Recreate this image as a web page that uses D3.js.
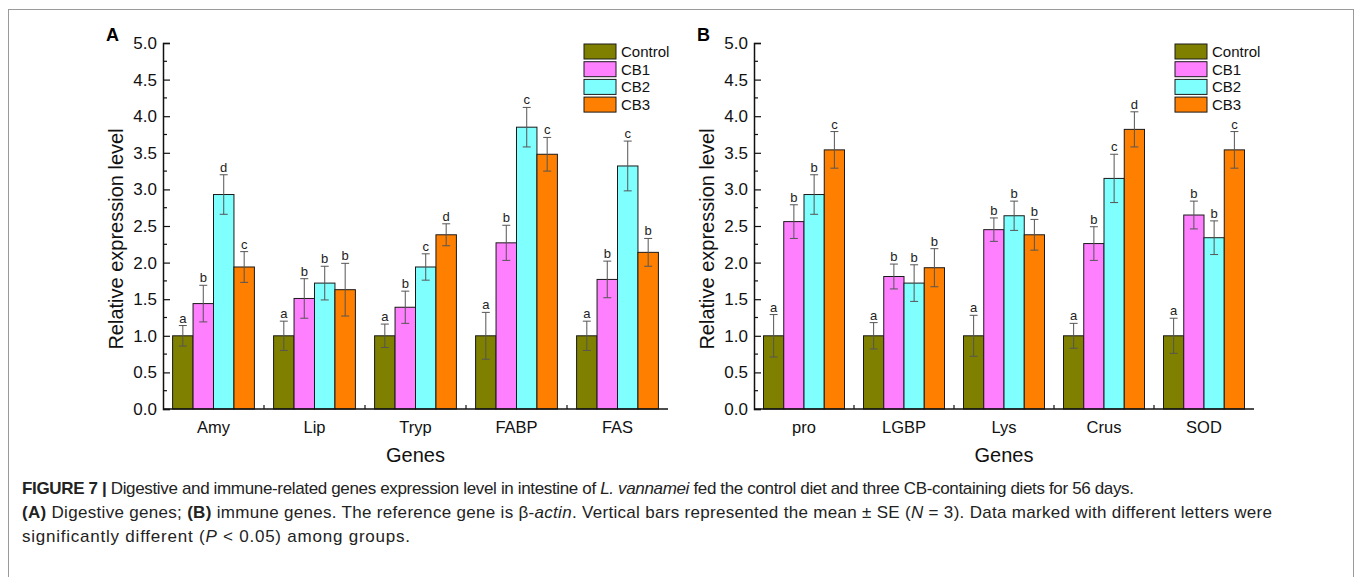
<!DOCTYPE html>
<html>
<head>
<meta charset="utf-8">
<script src="https://cdn.jsdelivr.net/npm/d3@7"></script>
<style>
  body { margin: 0; background: #fff; }
  text { font-family: "Liberation Sans", Arial, sans-serif; }
</style>
</head>
<body>
<div id="chart"></div>
<script>
// series and colours
var series = ["Control", "CB1", "CB2", "CB3"];
var colors = ["#808000", "#ff80ff", "#80ffff", "#ff8000"];

// panel A - digestive genes
var genesA = ["Amy", "Lip", "Tryp", "FABP", "FAS"];
var meanA = [
  [1.00, 1.00, 1.00, 1.00, 1.00],   // Control
  [1.44, 1.51, 1.39, 2.27, 1.77],   // CB1
  [2.93, 1.72, 1.94, 3.85, 3.32],   // CB2
  [1.94, 1.63, 2.38, 3.48, 2.14]    // CB3
];
var seA = [
  [0.14, 0.20, 0.16, 0.32, 0.20],
  [0.25, 0.27, 0.22, 0.24, 0.25],
  [0.27, 0.23, 0.18, 0.27, 0.34],
  [0.21, 0.36, 0.15, 0.23, 0.19]
];
var lettersA = [
  ["a", "a", "a", "a", "a"],
  ["b", "b", "b", "b", "b"],
  ["d", "b", "c", "c", "c"],
  ["c", "b", "d", "c", "b"]
];

// panel B - immune genes
var genesB = ["pro", "LGBP", "Lys", "Crus", "SOD"];
var meanB = [
  [1.00, 1.00, 1.00, 1.00, 1.00],
  [2.56, 1.81, 2.45, 2.26, 2.65],
  [2.93, 1.72, 2.64, 3.15, 2.34],
  [3.54, 1.93, 2.38, 3.82, 3.54]
];
var seB = [
  [0.29, 0.18, 0.28, 0.17, 0.24],
  [0.23, 0.17, 0.16, 0.23, 0.19],
  [0.27, 0.25, 0.20, 0.33, 0.23],
  [0.25, 0.26, 0.21, 0.24, 0.25]
];
var lettersB = [
  ["a", "a", "a", "a", "a"],
  ["b", "b", "b", "b", "b"],
  ["b", "b", "b", "c", "b"],
  ["c", "b", "b", "d", "c"]
];

var yTicks = [0, 0.5, 1, 1.5, 2, 2.5, 3, 3.5, 4, 4.5, 5];

var width = 1357, height = 577;

var svg = d3.select("#chart")
  .append("svg")
  .attr("width", width)
  .attr("height", height);

// figure frame
svg.append("rect")
  .attr("x", 8.5).attr("y", 9.5)
  .attr("width", 1345).attr("height", 620)
  .attr("fill", "none")
  .attr("stroke", "#9a9a9a")
  .attr("stroke-width", 1);

function drawPanel(tag, left, right, genes, means, ses, letters) {
  var top = 43, bottom = 409;
  var g = svg.append("g");

  var x = d3.scaleBand().domain(genes).range([left, right])
    .paddingInner(0.19).paddingOuter(0.095);
  var xs = d3.scaleBand().domain(series).range([0, x.bandwidth()]);
  var y = d3.scaleLinear().domain([0, 5]).range([bottom, top]);

  // panel letter
  g.append("text")
    .attr("x", left - 57).attr("y", 41)
    .attr("font-size", "18px").attr("font-weight", "bold")
    .text(tag);

  // bars
  series.forEach(function (s, i) {
    var rows = genes.map(function (gene, j) {
      return { gene: gene, v: means[i][j], se: ses[i][j], l: letters[i][j] };
    });
    var sg = g.append("g");
    sg.selectAll("rect")
      .data(rows).enter().append("rect")
      .attr("x", function (d) { return x(d.gene) + xs(s); })
      .attr("y", function (d) { return y(d.v); })
      .attr("width", xs.bandwidth())
      .attr("height", function (d) { return y(0) - y(d.v); })
      .attr("fill", colors[i])
      .attr("stroke", "#1a1a1a")
      .attr("stroke-width", 1);

    var cx = function (d) { return x(d.gene) + xs(s) + xs.bandwidth() / 2; };
    sg.selectAll("line.err")
      .data(rows).enter().append("line")
      .attr("class", "err")
      .attr("x1", cx).attr("x2", cx)
      .attr("y1", function (d) { return y(d.v + d.se); })
      .attr("y2", function (d) { return y(d.v - d.se); })
      .attr("stroke", "#555").attr("stroke-width", 1);
    [1, -1].forEach(function (sign) {
      sg.selectAll("line.cap" + sign)
        .data(rows).enter().append("line")
        .attr("x1", function (d) { return cx(d) - 4; })
        .attr("x2", function (d) { return cx(d) + 4; })
        .attr("y1", function (d) { return y(d.v + sign * d.se); })
        .attr("y2", function (d) { return y(d.v + sign * d.se); })
        .attr("stroke", "#555").attr("stroke-width", 1);
    });
    sg.selectAll("text")
      .data(rows).enter().append("text")
      .attr("x", cx)
      .attr("y", function (d) { return y(d.v + d.se) - 3; })
      .attr("text-anchor", "middle")
      .attr("font-size", "13px")
      .attr("fill", "#222")
      .text(function (d) { return d.l; });
  });

  // y axis
  var yAxis = d3.axisRight(y).tickValues(yTicks).tickSize(7)
    .tickFormat(d3.format(".1f"));
  var ya = g.append("g").attr("transform", "translate(" + left + ",0)").call(yAxis);
  ya.select(".domain").attr("stroke", "#111").attr("stroke-width", 1.5);
  ya.selectAll(".tick line").attr("stroke", "#111").attr("stroke-width", 1.2);
  ya.selectAll(".tick text")
    .attr("x", -6).attr("text-anchor", "end")
    .attr("font-size", "17px").attr("fill", "#111")
    .attr("font-family", "Liberation Sans, Arial, sans-serif");
  // minor ticks
  g.selectAll("line.minor")
    .data(d3.range(0.25, 5, 0.5)).enter().append("line")
    .attr("x1", left).attr("x2", left + 4)
    .attr("y1", function (d) { return y(d); })
    .attr("y2", function (d) { return y(d); })
    .attr("stroke", "#111").attr("stroke-width", 1.2);

  // x axis
  g.append("line")
    .attr("x1", left).attr("x2", right)
    .attr("y1", bottom).attr("y2", bottom)
    .attr("stroke", "#111").attr("stroke-width", 1.5);
  g.selectAll("line.xt")
    .data(genes.slice(1)).enter().append("line")
    .attr("x1", function (d) { return x(d) - x.step() * 0.095; })
    .attr("x2", function (d) { return x(d) - x.step() * 0.095; })
    .attr("y1", bottom).attr("y2", bottom - 4)
    .attr("stroke", "#111").attr("stroke-width", 1.2);
  g.selectAll("text.xl")
    .data(genes).enter().append("text")
    .attr("x", function (d) { return x(d) + x.bandwidth() / 2; })
    .attr("y", 433)
    .attr("text-anchor", "middle")
    .attr("font-size", "16.5px").attr("fill", "#111")
    .text(function (d) { return d; });

  // axis titles
  g.append("text")
    .attr("x", (left + right) / 2).attr("y", 462)
    .attr("text-anchor", "middle")
    .attr("font-size", "20px").attr("fill", "#111")
    .text("Genes");
  g.append("text")
    .attr("transform", "translate(" + (left - 40) + ",239) rotate(-90)")
    .attr("text-anchor", "middle")
    .attr("font-size", "20px").attr("fill", "#111")
    .text("Relative expression level");

  // legend
  var lg = g.append("g").attr("transform", "translate(" + (left + 421) + ",44)");
  series.forEach(function (s, i) {
    lg.append("rect")
      .attr("x", 0).attr("y", i * 17.7)
      .attr("width", 32).attr("height", 15)
      .attr("fill", colors[i]).attr("stroke", "#1a1a1a").attr("stroke-width", 1);
    lg.append("text")
      .attr("x", 37).attr("y", i * 17.7 + 13)
      .attr("font-size", "15px").attr("fill", "#111")
      .text(s);
  });
}

drawPanel("A", 163, 668, genesA, meanA, seA, lettersA);
drawPanel("B", 754, 1254, genesB, meanB, seB, lettersB);

// caption, one text element per line fitted to the reference line length
function capLine(yPos, len) {
  return svg.append("text")
    .attr("x", 22).attr("y", yPos)
    .attr("font-size", "17px").attr("fill", "#222")
    .attr("textLength", len).attr("lengthAdjust", "spacing");
}
var l1 = capLine(494, 1112);
l1.append("tspan").attr("font-weight", "bold").text("FIGURE 7 | ");
l1.append("tspan").text("Digestive and immune-related genes expression level in intestine of ");
l1.append("tspan").attr("font-style", "italic").text("L. vannamei");
l1.append("tspan").text(" fed the control diet and three CB-containing diets for 56 days.");
var l2 = capLine(518, 1250);
l2.append("tspan").attr("font-weight", "bold").text("(A)");
l2.append("tspan").text(" Digestive genes; ");
l2.append("tspan").attr("font-weight", "bold").text("(B)");
l2.append("tspan").text(" immune genes. The reference gene is \u03b2-");
l2.append("tspan").attr("font-style", "italic").text("actin");
l2.append("tspan").text(". Vertical bars represented the mean \u00b1 SE (");
l2.append("tspan").attr("font-style", "italic").text("N");
l2.append("tspan").text(" = 3). Data marked with different letters were");
var l3 = capLine(542, 388);
l3.append("tspan").text("significantly different (");
l3.append("tspan").attr("font-style", "italic").text("P");
l3.append("tspan").text(" < 0.05) among groups.");
</script>
</body>
</html>
